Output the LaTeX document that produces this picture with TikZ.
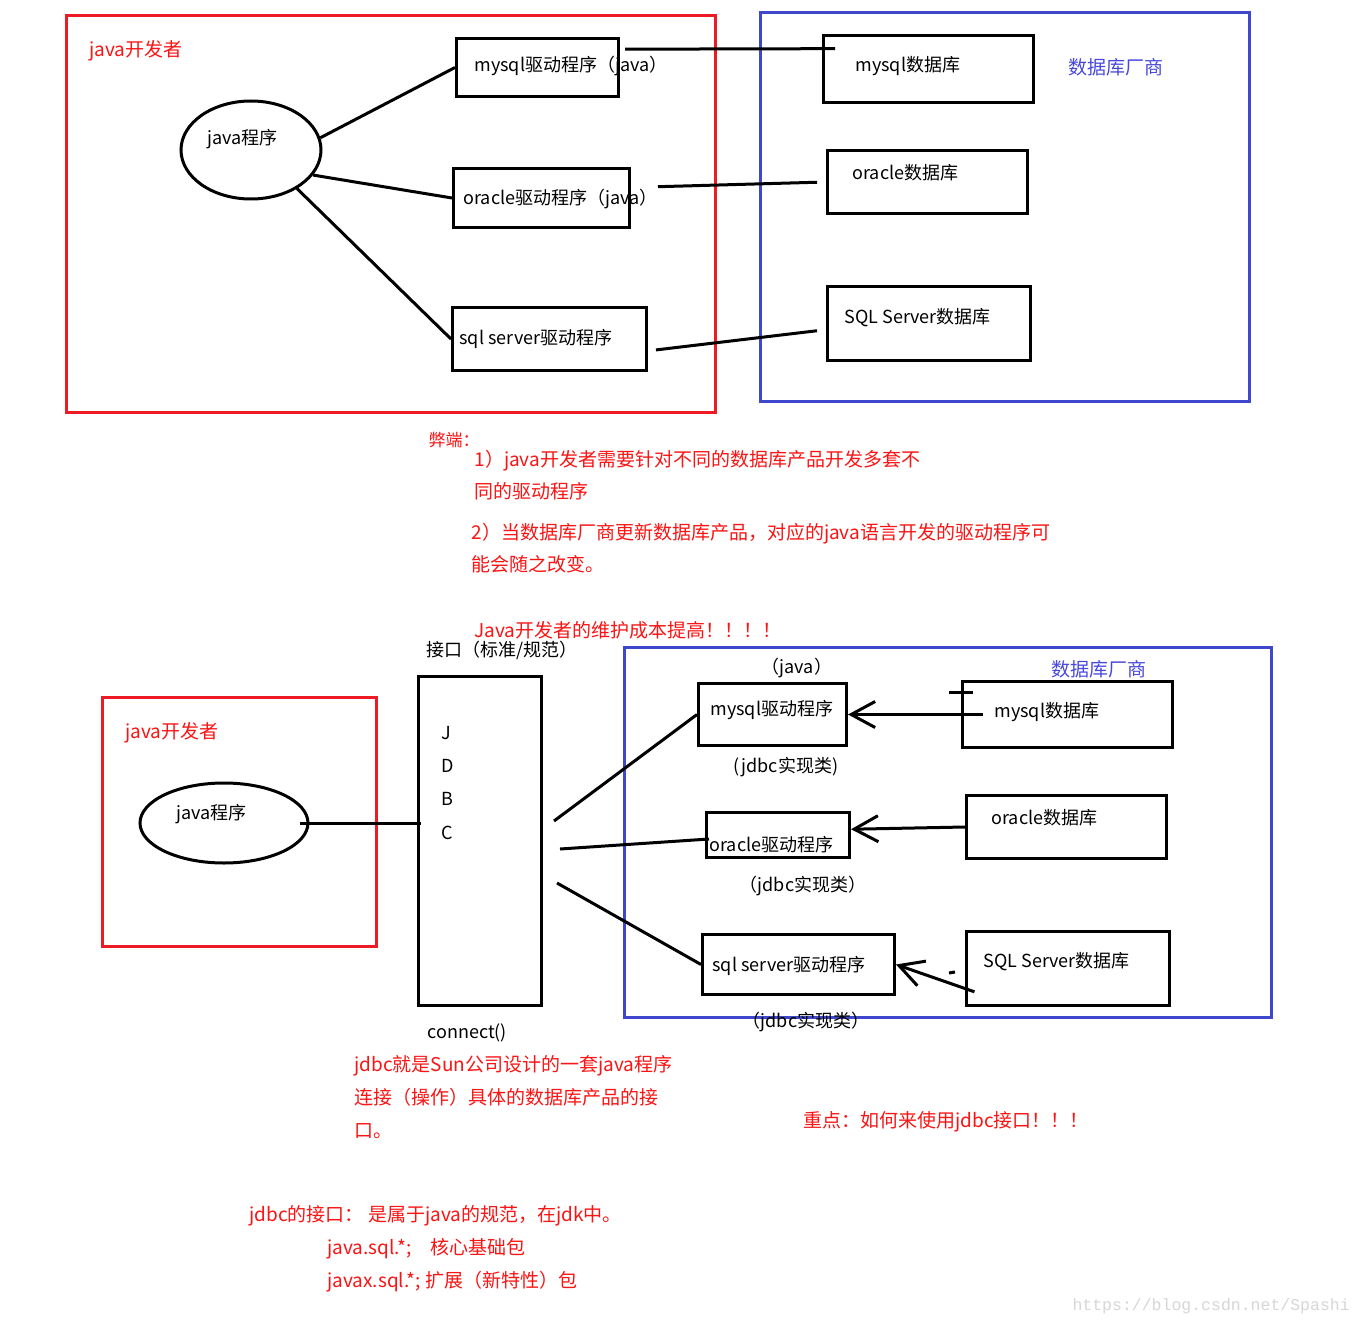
\documentclass[tikz,border=0pt]{standalone}
\usepackage{fontspec}
\setmainfont{Noto Sans CJK SC}
\newfontfamily\markfont{Liberation Mono}
\usetikzlibrary{calc,arrows.meta,positioning,shapes.geometric}
\definecolor{framered}{RGB}{237,28,36}
\definecolor{frameblue}{RGB}{63,72,204}
\definecolor{notered}{RGB}{250,20,20}
\definecolor{noteblue}{RGB}{72,72,220}
\definecolor{markgray}{RGB}{215,215,215}
\tikzset{
    every node/.style={font=\fontsize{18}{20}\selectfont,inner sep=0pt,text height=1.3em,text depth=0.1em},
    box node/.style={draw,line width=3pt,rectangle,anchor=north west},
    prog node/.style={draw,line width=3pt,ellipse},
    label node/.style={anchor=west},
    red note/.style={anchor=west,text=notered,font=\fontsize{19}{21}\selectfont},
    blue note/.style={anchor=west,text=noteblue,font=\fontsize{19}{21}\selectfont},
    red frame/.style={draw=framered,line width=3pt},
    blue frame/.style={draw=frameblue,line width=3pt}
}

\begin{document}
\begin{tikzpicture}[x=1pt,y=-1pt,line width=3pt,>={Straight Barb[length=24pt,width=26pt]}]
    \fill[white] (0,0) rectangle (1362,1324);
    \useasboundingbox (0,0) rectangle (1362,1324);

    % before jdbc: one driver per database
    \draw[red frame] (66,16) rectangle (715,412);
    \node[red note] (t1) at (88,51) {java开发者};
    \node[prog node,minimum width=140pt,minimum height=98pt] (p1) at (251,150) {};
    \node[label node] (p1t) at (206,139) {java程序};

    \node[box node,minimum width=162pt,minimum height=58pt] (m1) at (455,37) {};
    \node[label node] (m1t) at (473,66) {mysql驱动程序（java）};
    \node[box node,minimum width=176pt,minimum height=59pt] (o1) at (452,167) {};
    \node[label node] (o1t) at (462,199) {oracle驱动程序（java）};
    \node[box node,minimum width=194pt,minimum height=63pt] (s1) at (451,306) {};
    \node[label node] (s1t) at (458,338) {sql server驱动程序};

    \draw[blue frame] (760,13) rectangle (1249,401);
    \node[box node,minimum width=210pt,minimum height=67pt] (M1) at (822,34) {};
    \node[label node] (M1t) at (854,66) {mysql数据库};
    \node[box node,minimum width=200pt,minimum height=63pt] (O1) at (826,149) {};
    \node[label node] (O1t) at (851,174) {oracle数据库};
    \node[box node,minimum width=203pt,minimum height=74pt] (S1) at (826,285) {};
    \node[label node] (S1t) at (843,317) {SQL Server数据库};
    \node[blue note] (v1) at (1067,69) {数据库厂商};

    \draw (p1.10) -- (m1.west);
    \draw (p1.-22) -- (o1.west);
    \draw (p1.-40) -- (s1.west);
    \draw[shorten <=5pt,shorten >=-13pt] ($(m1.north east)!0.2!(m1.south east)$) -- ($(M1.north west)!0.21!(M1.south west)$);
    \draw[shorten <=27pt,shorten >=9pt] ($(o1.north east)!0.33!(o1.south east)$) -- ($(O1.north west)!0.5!(O1.south west)$);
    \draw[shorten <=8pt,shorten >=9pt] ($(s1.north east)!0.68!(s1.south east)$) -- ($(S1.north west)!0.58!(S1.south west)$);

    % drawbacks
    \node[red note,font=\fontsize{17}{19}\selectfont] (n0) at (427,440) {弊端：};
    \node[red note] (n1) at (473,460) {1）java开发者需要针对不同的数据库产品开发多套不};
    \node[red note] (n2) at (473,492) {同的驱动程序};
    \node[red note] (n3) at (470,533) {2）当数据库厂商更新数据库产品，对应的java语言开发的驱动程序可};
    \node[red note] (n4) at (470,565) {能会随之改变。};
    \node[red note] (n5) at (473,631) {Java开发者的维护成本提高！！！！};

    % with jdbc: one interface
    \node[label node] (k1) at (425,650) {接口（标准/规范）};
    \node[box node,minimum width=123pt,minimum height=329pt] (jdbc) at (417,675) {};
    \foreach \l [count=\i] in {J,D,B,C}
        \node[label node] (j\i) at (440,700+33.3*\i) {\l};
    \node[label node] (c1) at (426,1032) {connect()};

    \draw[red frame] (102,697) rectangle (376,946);
    \node[red note] (t2) at (124,732) {java开发者};
    \node[prog node,minimum width=168pt,minimum height=80pt] (p2) at (224,823) {};
    \node[label node] (p2t) at (175,813) {java程序};
    \draw[shorten <=-10pt,shorten >=-4pt] (p2.east) -- (p2.east -| jdbc.west);

    \draw[blue frame] (624,647) rectangle (1271,1017);
    \node (jv) at (797,667) {（java）};
    \node[box node,minimum width=148pt,minimum height=62pt] (m2) at (697,682) {};
    \node[label node] (m2t) at (709,709) {mysql驱动程序};
    \node (im1) at (786,766) {(jdbc实现类)};
    \node[box node,minimum width=143pt,minimum height=45pt] (o2) at (705,811) {};
    \node[label node] (o2t) at (708,845) {oracle驱动程序};
    \node (im2) at (803,885) {（jdbc实现类）};
    \node[box node,minimum width=192pt,minimum height=60pt] (s2) at (701,933) {};
    \node[label node] (s2t) at (711,965) {sql server驱动程序};
    \node (im3) at (806,1021) {（jdbc实现类）};

    \node[box node,minimum width=210pt,minimum height=66pt] (M2) at (961,680) {};
    \node[label node] (M2t) at (993,711) {mysql数据库};
    \node[box node,minimum width=200pt,minimum height=63pt] (O2) at (965,794) {};
    \node[label node] (O2t) at (990,818) {oracle数据库};
    \node[box node,minimum width=203pt,minimum height=74pt] (S2) at (965,930) {};
    \node[label node] (S2t) at (982,961) {SQL Server数据库};
    \node[blue note] (v2) at (1050,670) {数据库厂商};

    \draw ($(jdbc.east)+(11,-20)$) -- (m2.west);
    \draw ($(jdbc.east)+(17,8)$) -- ($(o2.west)+(4,4)$);
    \draw ($(jdbc.east)+(14,42)$) -- (s2.west);
    \draw[->,shorten <=-22pt] (M2.west) -- (m2.east);
    \draw[->] (O2.west) -- ($(o2.north east)!0.38!(o2.south east)$);
    \draw[->,shorten <=-10pt] ($(S2.north west)!0.76!(S2.south west)$) -- (s2.east);
    \draw (949,692) -- (973,692);
    \draw (949,973) -- (955,972);

    % notes
    \node[red note] (n6) at (353,1065) {jdbc就是Sun公司设计的一套java程序};
    \node[red note] (n7) at (353,1098) {连接（操作）具体的数据库产品的接};
    \node[red note] (n8) at (353,1131) {口。};
    \node[red note] (n9) at (802,1121) {重点：如何来使用jdbc接口！！！};
    \node[red note] (n10) at (248,1215) {jdbc的接口： 是属于java的规范，在jdk中。};
    \node[red note] (n11) at (326,1248) {java.sql.*;\quad 核心基础包};
    \node[red note] (n12) at (326,1281) {javax.sql.*; 扩展（新特性）包};

    \node[anchor=west,text=markgray,font=\markfont\fontsize{16.5}{18}\selectfont] (w1) at (1071,1304) {https://blog.csdn.net/Spashi};
\end{tikzpicture}
\end{document}
